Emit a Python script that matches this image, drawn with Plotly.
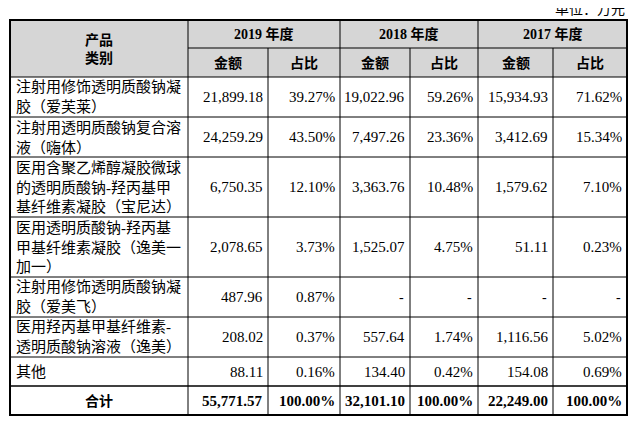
import plotly.graph_objects as go

# data
years = ["2019 年度", "2018 年度", "2017 年度"]
sub_headers = ["金额", "占比"]
products = [
    "注射用修饰透明质酸钠凝<br>胶（爱芙莱）",
    "注射用透明质酸钠复合溶<br>液（嗨体）",
    "医用含聚乙烯醇凝胶微球<br>的透明质酸钠-羟丙基甲<br>基纤维素凝胶（宝尼达）",
    "医用透明质酸钠-羟丙基<br>甲基纤维素凝胶（逸美一<br>加一）",
    "注射用修饰透明质酸钠凝<br>胶（爱美飞）",
    "医用羟丙基甲基纤维素-<br>透明质酸钠溶液（逸美）",
    "其他",
]
amount_2019 = ["21,899.18", "24,259.29", "6,750.35", "2,078.65", "487.96", "208.02", "88.11"]
share_2019 = ["39.27%", "43.50%", "12.10%", "3.73%", "0.87%", "0.37%", "0.16%"]
amount_2018 = ["19,022.96", "7,497.26", "3,363.76", "1,525.07", "-", "557.64", "134.40"]
share_2018 = ["59.26%", "23.36%", "10.48%", "4.75%", "-", "1.74%", "0.42%"]
amount_2017 = ["15,934.93", "3,412.69", "1,579.62", "51.11", "-", "1,116.56", "154.08"]
share_2017 = ["71.62%", "15.34%", "7.10%", "0.23%", "-", "5.02%", "0.69%"]
total_row = ["55,771.57", "100.00%", "32,101.10", "100.00%", "22,249.00", "100.00%"]

value_cols = [amount_2019, share_2019, amount_2018, share_2018, amount_2017, share_2017]

# geometry (pixels of the page); the body has an 8px margin
W, H = 637, 432
PAD = 8
col_x = [10, 188, 268, 340, 410, 478, 553, 627]
top, head_mid, head_bot = 20, 48, 77
FONT = "Liberation Serif, Noto Sans CJK SC"
HEAD_BG = "#d6d6d6"

row_edges = [head_bot]
for p in products:
    n = p.count("<br>") + 1
    row_edges.append(row_edges[-1] + max(29, 20 * n))
row_edges.append(row_edges[-1] + 29)
bottom = row_edges[-1]

fig = go.Figure()
shapes = []
ann = []

def line(x0, y0, x1, y1, w=1):
    shapes.append(dict(type="line", x0=x0, y0=y0, x1=x1, y1=y1, line=dict(color="black", width=w)))

# header background
shapes.append(dict(type="rect", x0=col_x[0], y0=top, x1=col_x[-1], y1=head_bot,
                   fillcolor=HEAD_BG, line=dict(width=0), layer="below"))

# grid
line(col_x[1], head_mid, col_x[-1], head_mid)
for y in row_edges[:-1]:
    line(col_x[0], y, col_x[-1], y, 1.5 if y == row_edges[-2] else 1)
for i, x in enumerate(col_x[1:-1], start=1):
    y0 = top if i % 2 == 1 else head_mid
    line(x, y0, x, bottom)
shapes.append(dict(type="rect", x0=col_x[0], y0=top, x1=col_x[-1], y1=bottom,
                   line=dict(color="black", width=2)))

def text(x, y, s, anchor="center", bold=False, size=14):
    ann.append(dict(x=x, y=y, text=f"<b>{s}</b>" if bold else s, showarrow=False,
                    xanchor=anchor, yanchor="middle", align="left",
                    font=dict(family=FONT, size=size, color="black")))

# headers
text((col_x[0] + col_x[1]) / 2, (top + head_bot) / 2, "产品<br>类别", bold=True)
for i, yr in enumerate(years):
    text((col_x[1 + 2 * i] + col_x[3 + 2 * i]) / 2, (top + head_mid) / 2, yr, bold=True)
for j in range(6):
    text((col_x[1 + j] + col_x[2 + j]) / 2, (head_mid + head_bot) / 2, sub_headers[j % 2], bold=True)

# body
for r, p in enumerate(products):
    yc = (row_edges[r] + row_edges[r + 1]) / 2
    text(col_x[0] + 4, yc, p, anchor="left", size=15)
    for j, col in enumerate(value_cols):
        v = col[r]
        if v == "-":
            text(col_x[2 + j] - 4, yc, v, anchor="right")
        else:
            text(col_x[2 + j] - 3, yc, v, anchor="right", size=15)

yc = (row_edges[-2] + row_edges[-1]) / 2
text((col_x[0] + col_x[1]) / 2, yc, "合计", bold=True)
for j, v in enumerate(total_row):
    text(col_x[2 + j] - 3, yc, v, anchor="right", bold=True, size=15)

text(col_x[-1], 9, "单位：万元", anchor="right", size=14)

fig.update_layout(
    width=W - 2 * PAD, height=H - 2 * PAD,
    margin=dict(l=0, r=0, t=0, b=0),
    paper_bgcolor="white", plot_bgcolor="white",
    xaxis=dict(range=[PAD, W - PAD], visible=False, fixedrange=True),
    yaxis=dict(range=[H - PAD, PAD], visible=False, fixedrange=True),
    shapes=shapes, annotations=ann, showlegend=False,
)

fig.write_html("out.html")
